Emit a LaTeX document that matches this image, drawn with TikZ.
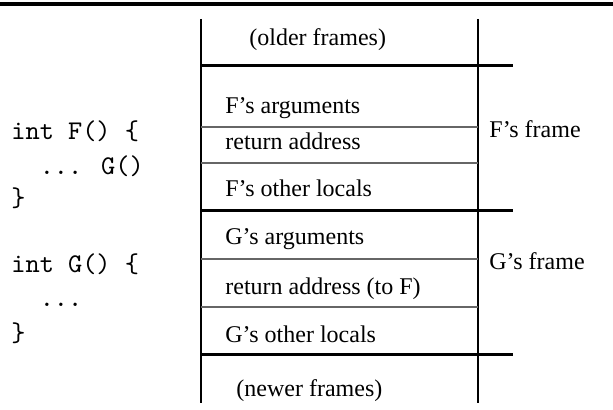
\documentclass[tikz,border=0pt]{standalone}
\usepackage{fontspec}
\setmainfont{Liberation Serif}
\newfontfamily\codefont{lmmono10-regular.otf}
\usepackage{tikz}

\begin{document}
\begin{tikzpicture}[x=0.5pt, y=-0.5pt,
  wall/.style={line width=0.8pt, black},
  thickrule/.style={line width=1.5pt, black},
  thinrule/.style={line width=0.8pt, black!60},
  lbl/.style={anchor=base west, inner sep=0pt, font=\fontsize{12}{14}\selectfont},
  code/.style={anchor=base west, inner sep=0pt, font=\fontsize{13.5}{16}\selectfont\codefont}]
\useasboundingbox (0,0) rectangle (613,410);
% top rule
\draw[line width=1.75pt] (0,4) -- (613,4);
% drawing the stack
\draw[wall] (201,19) -- (201,403);
\draw[wall] (478,19) -- (478,403);
\draw[thickrule] (201,66) -- (513,66);
\draw[thickrule] (201,211) -- (513,211);
\draw[thickrule] (201,354) -- (513,354);
\draw[thinrule] (201,127) -- (478,127);
\draw[thinrule] (201,163) -- (478,163);
\draw[thinrule] (201,259) -- (478,259);
\draw[thinrule] (201,307) -- (478,307);
% end of stack
% slot labels
\node[lbl] (older) at (249,46) {(older frames)};
\node[lbl] (fargs) at (225,114) {F's arguments};
\node[lbl] (fret) at (225,150) {return address};
\node[lbl] (flocals) at (225,197) {F's other locals};
\node[lbl] (gargs) at (225,245) {G's arguments};
\node[lbl] (gret) at (225,294) {return address (to F)};
\node[lbl] (glocals) at (225,342) {G's other locals};
\node[lbl] (newer) at (236,396) {(newer frames)};
% frame names
\node[lbl] (fframe) at (489,138) {F's frame};
\node[lbl] (gframe) at (489,270) {G's frame};
% the code
\node[code] (fhead) at (11,140) {int F() \{};
\node[code] (fbody) at (11,175) {\ \ ... G()};
\node[code] (fend) at (11,207) {\}};
\node[code] (ghead) at (11,272) {int G() \{};
\node[code] (gbody) at (11,306) {\ \ ...};
\node[code] (gend) at (11,341) {\}};
\end{tikzpicture}
\end{document}
